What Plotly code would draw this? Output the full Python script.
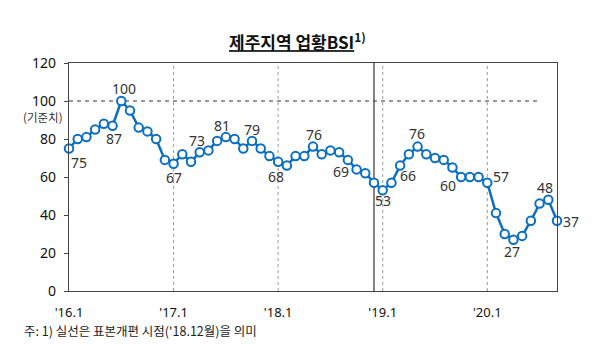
import plotly.graph_objects as go

months = ["16.%d" % m for m in range(1, 13)] + ["17.%d" % m for m in range(1, 13)] + \
         ["18.%d" % m for m in range(1, 13)] + ["19.%d" % m for m in range(1, 13)] + \
         ["20.%d" % m for m in range(1, 10)]
bsi = [75, 80, 81, 85, 88, 87, 100, 95, 86, 84, 80, 69,
       67, 72, 68, 73, 74, 79, 81, 80, 75, 79, 75, 71,
       68, 66, 71, 71, 76, 72, 74, 73, 69, 64, 62, 57,
       53, 57, 66, 72, 76, 72, 70, 69, 65, 60, 60, 60,
       57, 41, 30, 27, 29, 37, 46, 48, 37]

tick_idx = [0, 12, 24, 36, 48]
tick_text = ["'16.1", "'17.1", "'18.1", "'19.1", "'20.1"]
y_ticks = [0, 20, 40, 60, 80, 100, 120]

# labelled points: (index, xshift, yshift)
label_pts = [(0, 10, -14), (5, 1, -13), (6, 3, 13), (12, 0, -14), (15, -3, 12),
             (18, -4, 12), (21, 0, 11), (24, -2, -15), (28, 1, 12), (32, -7, -12),
             (36, 0, -10), (38, 8, -10), (40, -1, 13), (45, -13, -8), (48, 14, 6),
             (51, -1, -12), (55, -3, 12), (56, 14, -1)]

x = list(range(len(bsi)))
blue = "#0A6FC2"

# page body has an 8px margin; figure is sized so the plot lands where the reference has it
W, H = 592, 349
L, R, T, B = 61, 43, 55, 66
PW, PH = W - L - R, H - T - B

fig = go.Figure()
fig.add_trace(go.Scatter(
    x=x, y=bsi, mode="lines+markers",
    line=dict(color=blue, width=2.5),
    marker=dict(symbol="circle", size=8.5, color="white", line=dict(color=blue, width=2)),
    cliponaxis=False, hoverinfo="skip", showlegend=False))

annotations = []
for i, xs, ys in label_pts:
    annotations.append(dict(x=i, y=bsi[i], xref="x", yref="y", text=str(bsi[i]),
                            showarrow=False, xshift=xs, yshift=ys,
                            font=dict(family="Noto Sans", size=14, color="#333333")))

annotations.append(dict(x=-26.5 / PW, y=1 - 53.5 / PH, xref="paper", yref="paper",
                        xanchor="center", yanchor="middle",
                        text="(기준치)", showarrow=False,
                        font=dict(family="Noto Sans CJK KR", size=11.5, color="#333333")))
annotations.append(dict(x=-47 / PW, y=-39 / PH, xref="paper", yref="paper", xanchor="left",
                        yanchor="middle", showarrow=False,
                        text="주: 1) 실선은 표본개편 시점('18.12월)을 의미",
                        font=dict(family="Noto Sans CJK KR", size=12.5, color="#222222")))
annotations.append(dict(x=(297 - 69) / PW, y=1 + 22 / PH, xref="paper", yref="paper",
                        xanchor="center", yanchor="middle", showarrow=False,
                        text="<b><u>제주지역 업황BSI</u><sup>1)</sup></b>",
                        font=dict(family="Noto Sans CJK KR", size=17, color="#111111")))

shapes = []
for t in [12, 24, 36, 48]:
    shapes.append(dict(type="line", x0=t, x1=t, y0=0, y1=120, xref="x", yref="y",
                       line=dict(color="#9a9a9a", width=1, dash="dot"), layer="below"))
shapes.append(dict(type="line", x0=35, x1=35, y0=0, y1=120, xref="x", yref="y",
                   line=dict(color="#333333", width=1.2), layer="below"))
shapes.append(dict(type="line", x0=0, x1=54.1, y0=100, y1=100, xref="x", yref="y",
                   line=dict(color="#333333", width=1, dash="4px,4px"), layer="below"))

fig.update_layout(
    width=W, height=H,
    margin=dict(l=L, r=R, t=T, b=B),
    plot_bgcolor="white", paper_bgcolor="white",
    annotations=annotations, shapes=shapes,
    xaxis=dict(range=[0, 56], tickvals=tick_idx, ticktext=tick_text, showgrid=False,
               zeroline=False, showline=True, linecolor="#444444", linewidth=1.2, mirror=True,
               ticks="", ticklabelstandoff=9,
               tickfont=dict(family="Noto Sans", size=13, color="#111111")),
    yaxis=dict(range=[0, 120], tickvals=y_ticks, showgrid=False, zeroline=False,
               showline=True, linecolor="#444444", linewidth=1.2, mirror=True,
               ticks="outside", ticklen=4, tickcolor="#444444", ticklabelstandoff=5,
               tickfont=dict(family="Noto Sans", size=14, color="#111111")),
)

fig.write_html("out.html")
